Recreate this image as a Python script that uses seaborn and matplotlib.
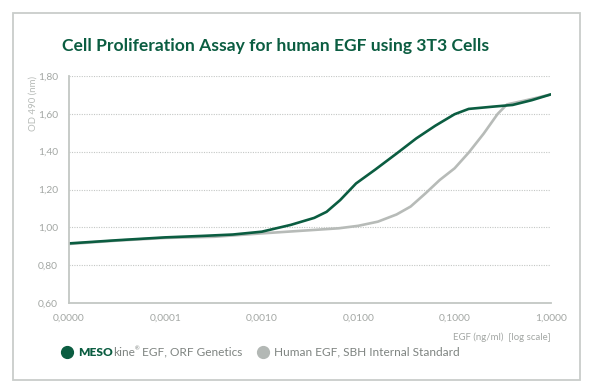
import numpy as np
import pandas as pd
import matplotlib
matplotlib.use("Agg")
import matplotlib.pyplot as plt
import matplotlib.patches as mpatches
from matplotlib.lines import Line2D
import seaborn as sns

# ---------------- data ----------------
meso_conc = [1e-5, 3.2e-5, 1e-4, 2.5e-4, 5e-4, 1e-3, 2e-3, 3.5e-3, 4.7e-3, 6.5e-3,
             9.5e-3, 1.5e-2, 2.5e-2, 4e-2, 6.3e-2, 1e-1, 1.4e-1, 2.5e-1, 4e-1, 6.3e-1, 1.0]
meso_od = [0.915, 0.932, 0.947, 0.955, 0.962, 0.977, 1.013, 1.050, 1.082, 1.144,
           1.232, 1.305, 1.390, 1.470, 1.537, 1.598, 1.626, 1.638, 1.647, 1.672, 1.703]

human_conc = [1e-5, 3.2e-5, 1e-4, 3.2e-4, 1e-3, 3.2e-3, 6.3e-3, 1e-2, 1.6e-2, 2.5e-2,
              3.5e-2, 5e-2, 7e-2, 1e-1, 1.4e-1, 2e-1, 2.8e-1, 3.5e-1, 5e-1, 7e-1, 1.0]
human_od = [0.912, 0.930, 0.944, 0.950, 0.968, 0.985, 0.995, 1.008, 1.030, 1.068,
            1.110, 1.180, 1.250, 1.312, 1.395, 1.495, 1.600, 1.650, 1.667, 1.684, 1.703]

series_names = ["MESOkine EGF, ORF Genetics", "Human EGF, SBH Internal Standard"]
x_ticks = [1e-5, 1e-4, 1e-3, 1e-2, 1e-1, 1.0]
x_tick_labels = ["0,0000", "0,0001", "0,0010", "0,0100", "0,1000", "1,0000"]
y_ticks = [0.60, 0.80, 1.00, 1.20, 1.40, 1.60, 1.80]
y_tick_labels = ["0,60", "0,80", "1,00", "1,20", "1,40", "1,60", "1,80"]

title = "Cell Proliferation Assay for human EGF using 3T3 Cells"
y_label = "OD 490 (nm)"
x_label = "EGF (ng/ml)  [log scale]"

# ---------------- style ----------------
GREEN = "#0b5d41"
GREY_LINE = "#b7bbb8"
AXIS_GREY = "#c3c7c4"
TEXT_GREY = "#a3a7a4"
LEG_GREY = "#7f8481"
FONT = "Lato"

sns.set_theme(style="white")
plt.rcParams["font.family"] = [FONT, "DejaVu Sans"]

df = pd.concat([
    pd.DataFrame({"conc": meso_conc, "od": meso_od, "series": series_names[0]}),
    pd.DataFrame({"conc": human_conc, "od": human_od, "series": series_names[1]}),
])

W, H = 596, 392
fig = plt.figure(figsize=(W / 100, H / 100), dpi=100)
fig.patch.set_facecolor("white")

ax = fig.add_axes([69 / W, 1 - 303 / H, (551 - 69) / W, (303 - 76) / H])

sns.lineplot(data=df, x="conc", y="od", hue="series",
             hue_order=[series_names[1], series_names[0]],
             palette={series_names[0]: GREEN, series_names[1]: GREY_LINE},
             linewidth=1.9, legend=False, ax=ax, sort=False, estimator=None)
for ln in ax.get_lines():
    ln.set_solid_joinstyle("round")
    ln.set_solid_capstyle("round")

ax.set_xscale("log")
ax.set_xlim(x_ticks[0], x_ticks[-1])
ax.set_ylim(y_ticks[0], y_ticks[-1])
ax.set_xticks(x_ticks)
ax.set_xticklabels(x_tick_labels)
ax.xaxis.set_minor_locator(matplotlib.ticker.NullLocator())
ax.set_yticks(y_ticks)
ax.set_yticklabels(y_tick_labels)
ax.set_xlabel("")
ax.set_ylabel("")

for s in ["top", "right"]:
    ax.spines[s].set_visible(False)
for s in ["left", "bottom"]:
    ax.spines[s].set_color(AXIS_GREY)
    ax.spines[s].set_linewidth(1.3)

ax.tick_params(axis="x", direction="in", length=5, width=1.1, color=AXIS_GREY,
               labelcolor=TEXT_GREY, labelsize=7.4, pad=8)
ax.tick_params(axis="y", direction="out", length=5, width=1.1, color=AXIS_GREY,
               labelcolor=TEXT_GREY, labelsize=7.4, pad=3)

for yv in y_ticks[1:]:
    ax.axhline(yv, color="#c4c7c5", linewidth=0.8, linestyle=(0, (1, 1.2)), zorder=0)

fig.text(33 / W, 1 - 76 / H, y_label, rotation=90, ha="center", va="top",
         fontsize=6.9, color="#b7bbb8")
fig.text(551 / W, 1 - 337 / H, x_label, ha="right", va="center",
         fontsize=6.9, color=TEXT_GREY)

fig.text(62 / W, 1 - 46 / H, title, ha="left", va="center", fontsize=12.6,
         color=GREEN, fontweight="bold")

fig.add_artist(mpatches.Rectangle((13 / W, 1 - 380 / H), (580 - 13) / W, (380 - 13) / H,
                                  transform=fig.transFigure, fill=False,
                                  edgecolor="#c9cdca", linewidth=1.3))

# legend (pieces placed one after another)
ly = 1 - 352 / H
fig.add_artist(Line2D([67 / W], [ly], marker="o", markersize=8.5, color=GREEN,
                      linestyle="none", transform=fig.transFigure))
fig.add_artist(Line2D([263 / W], [ly], marker="o", markersize=8.5, color="#b3b8b5",
                      linestyle="none", transform=fig.transFigure))
lf = 8.6
renderer = fig.canvas.get_renderer()
pieces = [("MESO", dict(color=GREEN, fontweight="heavy", fontsize=lf), 0, 0.0),
          ("kine", dict(color=LEG_GREY, fontsize=lf), 0, 0.0),
          ("®", dict(color=LEG_GREY, fontsize=4), 3, 2.5),
          ("EGF, ORF Genetics", dict(color=LEG_GREY, fontsize=lf), 0, 0.0)]
xpix = 78
for txt, kw, dy, gap in pieces:
    t = fig.text(xpix / W, ly + dy / H, txt, ha="left", va="center", **kw)
    bb = t.get_window_extent(renderer)
    xpix += bb.width + gap
fig.text(274 / W, ly, "Human EGF, SBH Internal Standard", ha="left", va="center",
         fontsize=lf, color=LEG_GREY)

fig.savefig("out.png", dpi=100, facecolor="white")
